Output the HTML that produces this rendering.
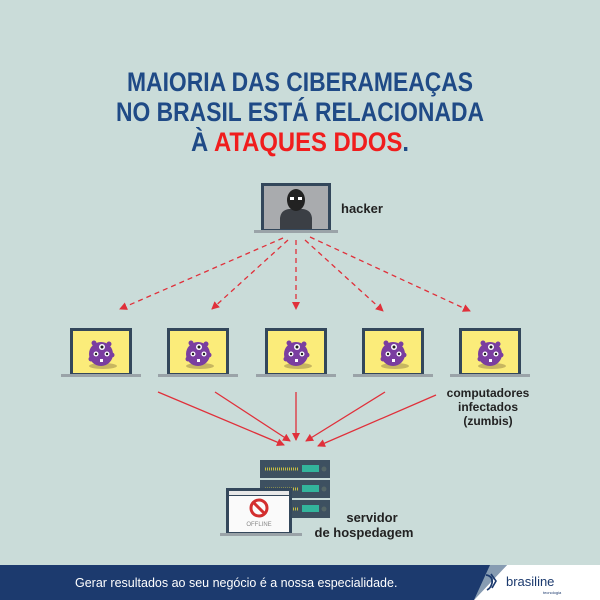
<!DOCTYPE html>
<html><head><meta charset="utf-8"><style>
html,body{margin:0;padding:0;background:#cadcd9}
svg{display:block}
text{font-family:"Liberation Sans",sans-serif}
</style></head><body>
<svg width="600" height="600" viewBox="0 0 600 600" xmlns="http://www.w3.org/2000/svg">
<defs>
<marker id="ar" markerWidth="8" markerHeight="8" refX="7" refY="4" orient="auto" markerUnits="userSpaceOnUse"><path d="M0,0 L8,4 L0,8 z" fill="#e0303a"/></marker>
<g id="lap">
<rect x="-31" y="-23" width="62" height="46" fill="#33475b"/>
<rect x="-28" y="-20" width="56" height="42" fill="#fbec7a"/>
<rect x="-40" y="23" width="80" height="3" fill="#9aa3a8"/>
<ellipse cx="2" cy="15" rx="14" ry="3" fill="#c7b660"/>
<circle cx="0" cy="3" r="12" fill="#7a3ea0"/>
<circle cx="-7" cy="-8" r="2.5" fill="#7a3ea0"/><circle cx="8" cy="-7" r="2.5" fill="#7a3ea0"/><circle cx="11" cy="4" r="2.5" fill="#7a3ea0"/><circle cx="-10" cy="8" r="2.5" fill="#7a3ea0"/>
<circle cx="1" cy="-4" r="3" fill="#fff"/><circle cx="1" cy="-4" r="1.5" fill="#222"/>
<circle cx="-5" cy="3" r="2.5" fill="#fff"/><circle cx="-5" cy="3" r="1.2" fill="#222"/>
<circle cx="6" cy="3" r="2.5" fill="#fff"/><circle cx="6" cy="3" r="1.2" fill="#222"/>
<rect x="-1" y="8" width="3" height="3" fill="#fff"/>
</g>
</defs>
<rect width="600" height="600" fill="#cadcd9"/>
<g font-weight="bold" font-size="27" text-anchor="middle" fill="#1f4a86">
<text x="300" y="91" textLength="346" lengthAdjust="spacingAndGlyphs">MAIORIA DAS CIBERAMEAÇAS</text>
<text x="300" y="121" textLength="368" lengthAdjust="spacingAndGlyphs">NO BRASIL ESTÁ RELACIONADA</text>
<text x="300" y="151" textLength="218" lengthAdjust="spacingAndGlyphs">À <tspan fill="#f01d1d">ATAQUES DDOS</tspan>.</text>
</g>
<!-- hacker -->
<rect x="261" y="183" width="70" height="47" fill="#33475b"/>
<rect x="264" y="186" width="64" height="43" fill="#a9abae"/>
<rect x="254" y="230" width="84" height="3" fill="#9aa3a8"/>
<path d="M280,229 L280,218 Q281,210 289,209 L303,209 Q311,210 312,218 L312,229 z" fill="#3b3f45"/>
<ellipse cx="296" cy="200" rx="9" ry="11" fill="#222"/>
<rect x="290" y="197" width="4" height="3" fill="#fff"/><rect x="298" y="197" width="4" height="3" fill="#fff"/>
<text x="341" y="213" font-size="13" font-weight="bold" fill="#222">hacker</text>
<!-- dashed -->
<g stroke="#e0303a" stroke-width="1.3" stroke-dasharray="5,4" fill="none" marker-end="url(#ar)">
<line x1="283" y1="238" x2="120" y2="309"/>
<line x1="288" y1="240" x2="212" y2="309"/>
<line x1="296" y1="240" x2="296" y2="309"/>
<line x1="305" y1="240" x2="383" y2="311"/>
<line x1="310" y1="237" x2="470" y2="311"/>
</g>
<use href="#lap" x="101" y="351"/>
<use href="#lap" x="198" y="351"/>
<use href="#lap" x="296" y="351"/>
<use href="#lap" x="393" y="351"/>
<use href="#lap" x="490" y="351"/>
<g font-size="12" font-weight="bold" fill="#222" text-anchor="middle">
<text x="488" y="397">computadores</text><text x="488" y="411">infectados</text><text x="488" y="425">(zumbis)</text>
</g>
<g stroke="#e0303a" stroke-width="1.3" fill="none" marker-end="url(#ar)">
<line x1="158" y1="392" x2="284" y2="445"/>
<line x1="215" y1="392" x2="290" y2="441"/>
<line x1="296" y1="392" x2="296" y2="440"/>
<line x1="385" y1="392" x2="306" y2="441"/>
<line x1="436" y1="395" x2="318" y2="446"/>
</g>
<!-- server -->
<g>
<rect x="260" y="460" width="70" height="18" fill="#3d5060"/><rect x="302" y="465" width="17" height="7" fill="#33b59c"/><circle cx="324" cy="469" r="2.5" fill="#566"/>
<rect x="260" y="480" width="70" height="18" fill="#3d5060"/><rect x="302" y="485" width="17" height="7" fill="#33b59c"/><circle cx="324" cy="489" r="2.5" fill="#566"/>
<rect x="260" y="500" width="70" height="18" fill="#3d5060"/><rect x="302" y="505" width="17" height="7" fill="#33b59c"/><circle cx="324" cy="509" r="2.5" fill="#566"/>
<g stroke="#c8c040" stroke-width="3" stroke-dasharray="1,1"><line x1="265" y1="469" x2="298" y2="469"/><line x1="265" y1="489" x2="298" y2="489"/><line x1="265" y1="509" x2="298" y2="509"/></g>
</g>
<rect x="226" y="488" width="66" height="46" fill="#33475b"/>
<rect x="229" y="491" width="60" height="4" fill="#e8e8e8"/>
<rect x="229" y="496" width="60" height="36" fill="#fafafa"/>
<rect x="220" y="533" width="82" height="3" fill="#9aa3a8"/>
<circle cx="259" cy="508" r="8" fill="none" stroke="#d32f2f" stroke-width="3"/>
<line x1="254" y1="503" x2="264" y2="513" stroke="#d32f2f" stroke-width="3"/>
<text x="259" y="526" font-size="6" fill="#888" text-anchor="middle">OFFLINE</text>
<g font-size="13" font-weight="bold" fill="#222" text-anchor="middle">
<text x="372" y="522">servidor</text><text x="364" y="537">de hospedagem</text>
</g>
<!-- footer -->
<rect x="0" y="565" width="600" height="35" fill="#1c3a6e"/>
<path d="M474,600 L507,565 L600,565 L600,600 z" fill="#fff"/>
<path d="M474,600 L507,565 L490,565 z" fill="#cfdde0" opacity="0.6"/>
<text x="75" y="587" font-size="12.5" fill="#fff">Gerar resultados ao seu negócio é a nossa especialidade.</text>
<path d="M486,575 Q493,576 492,583 Q491,588 487,590" stroke="#1c3a6e" stroke-width="1.8" fill="none"/>
<path d="M491,574 L496,581 L492,588" stroke="#1c3a6e" stroke-width="1.6" fill="none"/>
<text x="506" y="586" font-size="13" fill="#1c3a6e">brasiline</text>
<text x="543" y="594" font-size="4" fill="#1c3a6e">tecnologia</text>
</svg>
</body></html>
